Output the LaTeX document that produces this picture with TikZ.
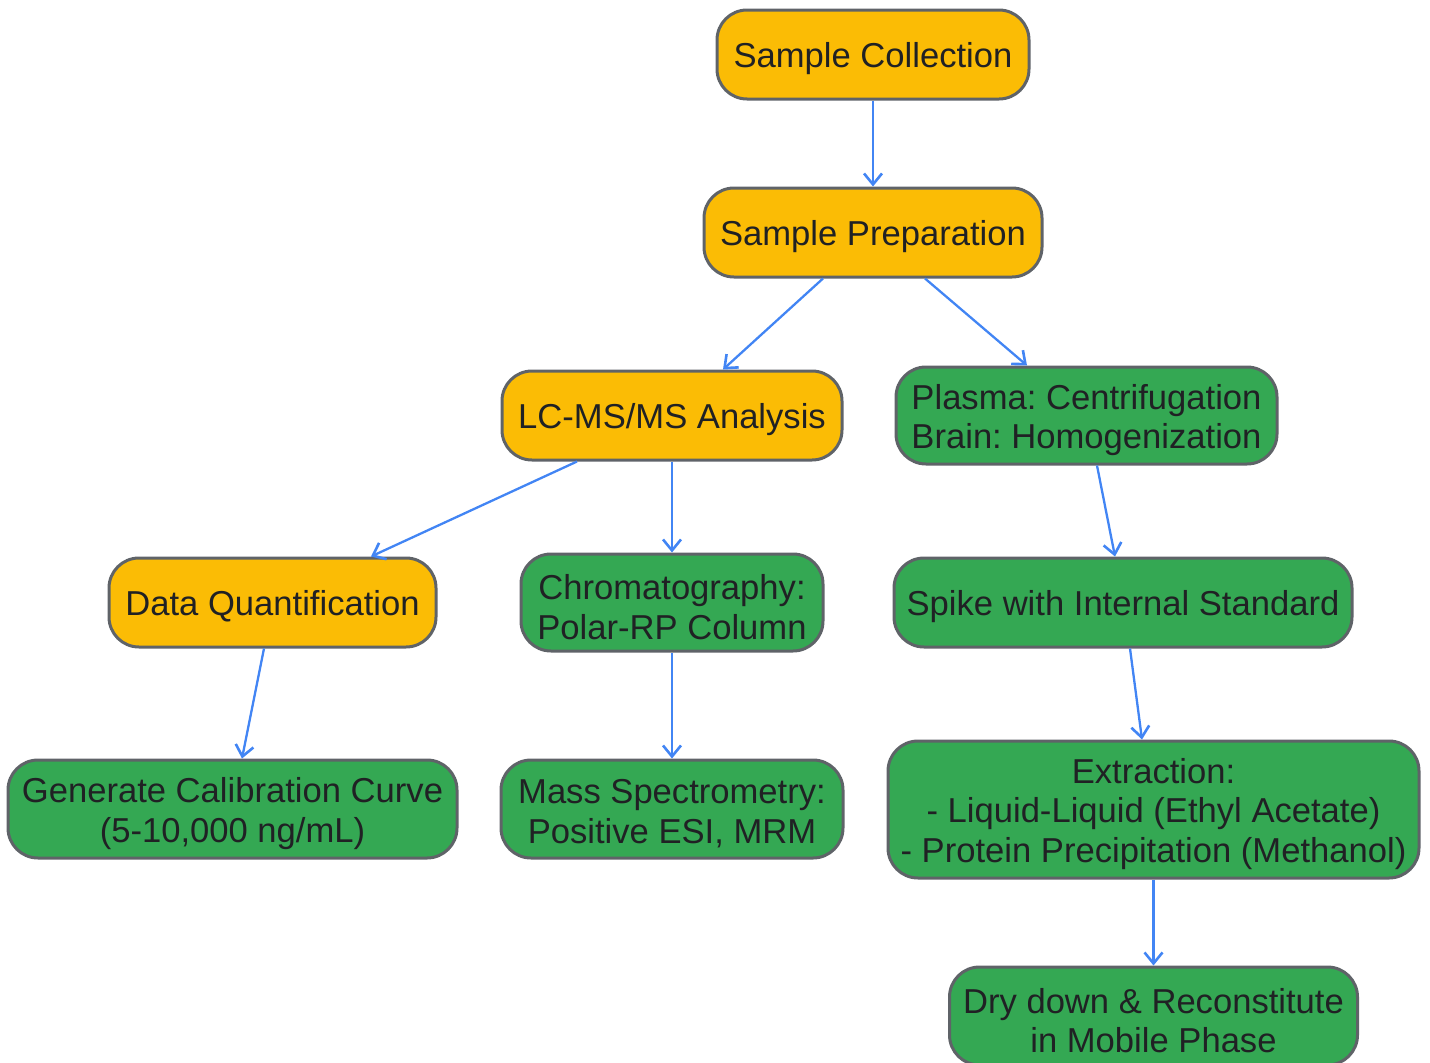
\documentclass[tikz,border=0pt]{standalone}
\usepackage{fontspec}
\setmainfont{Liberation Sans}
\usetikzlibrary{arrows.meta}
\definecolor{ybox}{HTML}{FBBC05}
\definecolor{gbox}{HTML}{34A853}
\definecolor{bord}{HTML}{5F6368}
\definecolor{arr}{HTML}{4285F4}
\definecolor{txt}{HTML}{202124}
\begin{document}
\frenchspacing
\begin{tikzpicture}[x=1pt,y=-1pt,
  box/.style={draw=bord, line width=3pt, rounded corners=30pt, inner sep=0pt},
  ybx/.style={box, fill=ybox},
  gbx/.style={box, fill=gbox},
  tx/.style={inner sep=0pt, align=center, text=txt, font=\fontsize{34.6}{39.5}\selectfont},
  conn/.style={draw=arr, line width=2.3pt, -{Straight Barb[length=11pt,width=18pt,line width=2.6pt]}}
]
\useasboundingbox (0,0) rectangle (1430,1063);
\clip (0,0) rectangle (1430,1063);
\node[ybx, minimum width=312pt, minimum height=89pt] (sc) at (873,54.5) {};
\node[ybx, minimum width=338pt, minimum height=89pt] (sp) at (873,232.5) {};
\node[ybx, minimum width=340pt, minimum height=89pt] (lc) at (672,415.5) {};
\node[gbx, minimum width=381pt, minimum height=97pt] (pl) at (1086.5,415.5) {};
\node[ybx, minimum width=327pt, minimum height=89pt] (dq) at (272.5,602.5) {};
\node[gbx, minimum width=302pt, minimum height=97pt] (ch) at (672,602.5) {};
\node[gbx, minimum width=458pt, minimum height=89pt] (sk) at (1123,602.5) {};
\node[gbx, minimum width=449pt, minimum height=98pt] (gc) at (232.5,809) {};
\node[gbx, minimum width=342pt, minimum height=98pt] (ms) at (672,809) {};
\node[gbx, minimum width=531pt, minimum height=137pt] (ex) at (1153.5,809.5) {};
\node[gbx, minimum width=408pt, minimum height=98pt] (dd) at (1153.5,1016) {};

\node[tx] (tsc) at ([yshift=-4pt]sc.center) {Sample Collection};
\node[tx] (tsp) at ([yshift=-4pt]sp.center) {Sample Preparation};
\node[tx] (tlc) at ([yshift=-4pt]lc.center) {LC-MS/MS Analysis};
\node[tx] (tpl) at ([yshift=-4.5pt]pl.center) {Plasma: Centrifugation\\Brain: Homogenization};
\node[tx] (tdq) at ([yshift=-4pt]dq.center) {Data Quantification};
\node[tx] (tch) at ([yshift=-4.5pt]ch.center) {Chromatography:\\Polar-RP Column};
\node[tx] (tsk) at ([yshift=-4pt]sk.center) {Spike with Internal Standard};
\node[tx] (tgc) at ([yshift=-4.5pt]gc.center) {Generate Calibration Curve\\(5-10,000 ng/mL)};
\node[tx] (tms) at ([yshift=-4.5pt]ms.center) {Mass Spectrometry:\\Positive ESI, MRM};
\node[tx] (tex) at ([yshift=-4.5pt]ex.center) {Extraction:\\- Liquid-Liquid (Ethyl Acetate)\\- Protein Precipitation (Methanol)};
\node[tx] (tdd) at ([yshift=-4.5pt]dd.center) {Dry down \& Reconstitute\\in Mobile Phase};

\draw[conn] (sc.south) -- (sp.north);
\draw[conn] ([xshift=-50pt]sp.south) -- ([xshift=51pt]lc.north);
\draw[conn] ([xshift=52pt]sp.south) -- ([xshift=-59.5pt]pl.north);
\draw[conn] ([xshift=-95pt]lc.south) -- ([xshift=98.5pt]dq.north);
\draw[conn] (lc.south) -- (ch.north);
\draw[conn] ([xshift=10.5pt]pl.south) -- ([xshift=-8pt]sk.north);
\draw[conn] ([xshift=-8.5pt]dq.south) -- ([xshift=9.5pt]gc.north);
\draw[conn] (ch.south) -- (ms.north);
\draw[conn] ([xshift=7pt]sk.south) -- ([xshift=-11.5pt]ex.north);
\draw[conn] (ex.south) -- (dd.north);
\end{tikzpicture}
\end{document}
